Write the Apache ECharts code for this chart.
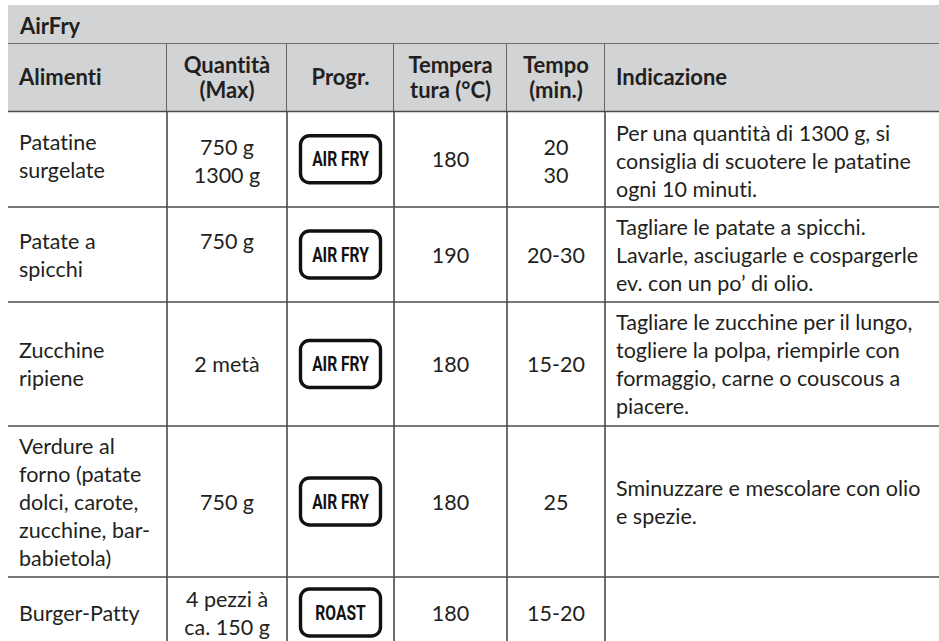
<!DOCTYPE html>
<html><head><meta charset="utf-8">
<script src="https://cdn.jsdelivr.net/npm/echarts@6/dist/echarts.min.js"></script>
<style>html,body{margin:0;padding:0;background:#fff}#chart{width:939px;height:641px}
svg text{font-variant-ligatures:none;font-feature-settings:"liga" 0,"clig" 0,"dlig" 0}</style>
</head><body><div id="chart"></div>
<script>
// ---- content ----
const tableTitle = 'AirFry';
const headers = ['Alimenti', 'Quantità\n(Max)', 'Progr.', 'Tempera\ntura (°C)', 'Tempo\n(min.)', 'Indicazione'];
const foods = ['Patatine\nsurgelate', 'Patate a\nspicchi', 'Zucchine\nripiene', 'Verdure al\nforno (patate\ndolci, carote,\nzucchine, bar-\nbabietola)', 'Burger-Patty'];
const quantities = ['750 g\n1300 g', '750 g', '2 metà', '750 g', '4 pezzi à\nca. 150 g'];
const programs = ['AIR FRY', 'AIR FRY', 'AIR FRY', 'AIR FRY', 'ROAST'];
const temperatures = ['180', '190', '180', '180', '180'];
const times = ['20\n30', '20-30', '15-20', '25', '15-20'];
const notes = [
  'Per una quantità di 1300 g, si\nconsiglia di scuotere le patatine\nogni 10 minuti.',
  'Tagliare le patate a spicchi.\nLavarle, asciugarle e cospargerle\nev. con un po’ di olio.',
  'Tagliare le zucchine per il lungo,\ntogliere la polpa, riempirle con\nformaggio, carne o couscous a\npiacere.',
  'Sminuzzare e mescolare con olio\ne spezie.',
  ''
];

// ---- layout ----
const W = 939, H = 641;
const colEdges = [8, 167, 287, 394, 507, 605, 950];
const rowEdges = [5, 44, 111.5, 207, 302, 426, 577, 648];
const colAlign = ['left', 'center', 'center', 'center', 'center', 'left'];
const padLeft = 11;
const lineColor = '#4a4a4a';
const lineW = 1.6;
const headFill = '#d1d3d4';
const textColor = '#231f20';
const bodyFont = 'Lato, "Open Sans", sans-serif';
const bodySize = 21.5, headSize = 22, bodyLH = 28, headLH = 25;
const badgeW = 80, badgeH = 47;
const badgeFont = 'Roboto, "DejaVu Sans", sans-serif';
const topAlignCells = {'1-1': true}; // quantity of 2nd row sits on first line
const cellShift = {'0-0': -3, '1-0': 2, '4-0': 2, '5-0': 2};

const columns = [foods, quantities, programs, temperatures, times, notes];

// cells: [col, row]  row -1 = title, 0 = header, 1.. = body
const cells = [[0, -1]];
for (let c = 0; c < headers.length; c++) cells.push([c, 0]);
for (let r = 0; r < foods.length; r++)
  for (let c = 0; c < headers.length; c++) cells.push([c, r + 1]);

function renderItem(params, api) {
  const c = api.value(0), r = api.value(1);
  const ri = r + 1;
  const p0 = api.coord([colEdges[c], rowEdges[ri]]);
  const p1 = api.coord([r === -1 ? colEdges[colEdges.length - 1] : colEdges[c + 1], rowEdges[ri + 1]]);
  const x0 = p0[0], y0 = p0[1], x1 = p1[0], y1 = p1[1];
  const cy = (y0 + y1) / 2;
  const children = [];
  if (r <= 0) {
    children.push({type: 'rect', shape: {x: x0, y: y0, width: x1 - x0 + 0.5, height: y1 - y0}, style: {fill: headFill}});
  }
  children.push({type: 'line', shape: {x1: x0, y1: y1, x2: x1, y2: y1}, style: {stroke: lineColor, lineWidth: lineW}});
  if (r >= 0 && c < headers.length - 1) {
    children.push({type: 'line', shape: {x1: x1, y1: y0, x2: x1, y2: y1}, style: {stroke: lineColor, lineWidth: lineW}});
  }
  const align = colAlign[c];
  const tx = align === 'left' ? x0 + padLeft : (x0 + x1) / 2;
  if (r === -1) {
    children.push({type: 'text', style: {text: tableTitle, x: x0 + 12, y: cy + 0.5, align: 'left', verticalAlign: 'middle',
      fill: textColor, fontFamily: bodyFont, fontWeight: 'bold', fontSize: headSize}});
  } else if (r === 0) {
    children.push({type: 'text', style: {text: headers[c], x: tx, y: cy - 1, align: align, verticalAlign: 'middle',
      lineHeight: headLH, fill: textColor, fontFamily: bodyFont, fontWeight: 'bold', fontSize: headSize}});
  } else {
    const val = columns[c][r - 1];
    if (c === 2) {
      children.push({type: 'rect', shape: {x: tx - badgeW / 2, y: cy - badgeH / 2, width: badgeW, height: badgeH, r: 9},
        style: {fill: '#fff', stroke: '#111', lineWidth: 3.4}});
      children.push({type: 'text', x: tx, y: cy + 0.5, scaleX: 0.8, scaleY: 1,
        style: {text: val, x: 0, y: 0, align: 'center', verticalAlign: 'middle',
        fill: '#111', fontFamily: badgeFont, fontSize: 19.5, fontWeight: 'bold'}});
    } else if (val) {
      let y = cy + (cellShift[c + '-' + (r - 1)] || 0);
      if (topAlignCells[c + '-' + (r - 1)]) {
        const n0 = foods[r - 1].split('\n').length, n = val.split('\n').length;
        y = cy - (n0 - n) * bodyLH / 2;
      }
      children.push({type: 'text', style: {text: val, x: tx, y: y, align: align, verticalAlign: 'middle',
        lineHeight: bodyLH, fill: textColor, fontFamily: bodyFont, fontSize: bodySize}});
    }
  }
  return {type: 'group', children: children};
}

const chart = echarts.init(document.getElementById('chart'), null, {renderer: 'svg'});
chart.setOption({
  animation: false,
  backgroundColor: '#fff',
  grid: {left: 0, right: 0, top: 0, bottom: 0},
  xAxis: {type: 'value', min: 0, max: W, show: false},
  yAxis: {type: 'value', min: 0, max: H, inverse: true, show: false},
  series: [{
    type: 'custom',
    coordinateSystem: 'cartesian2d',
    clip: false,
    silent: true,
    renderItem: renderItem,
    encode: {x: 0, y: 1},
    data: cells
  }]
});
</script></body></html>
